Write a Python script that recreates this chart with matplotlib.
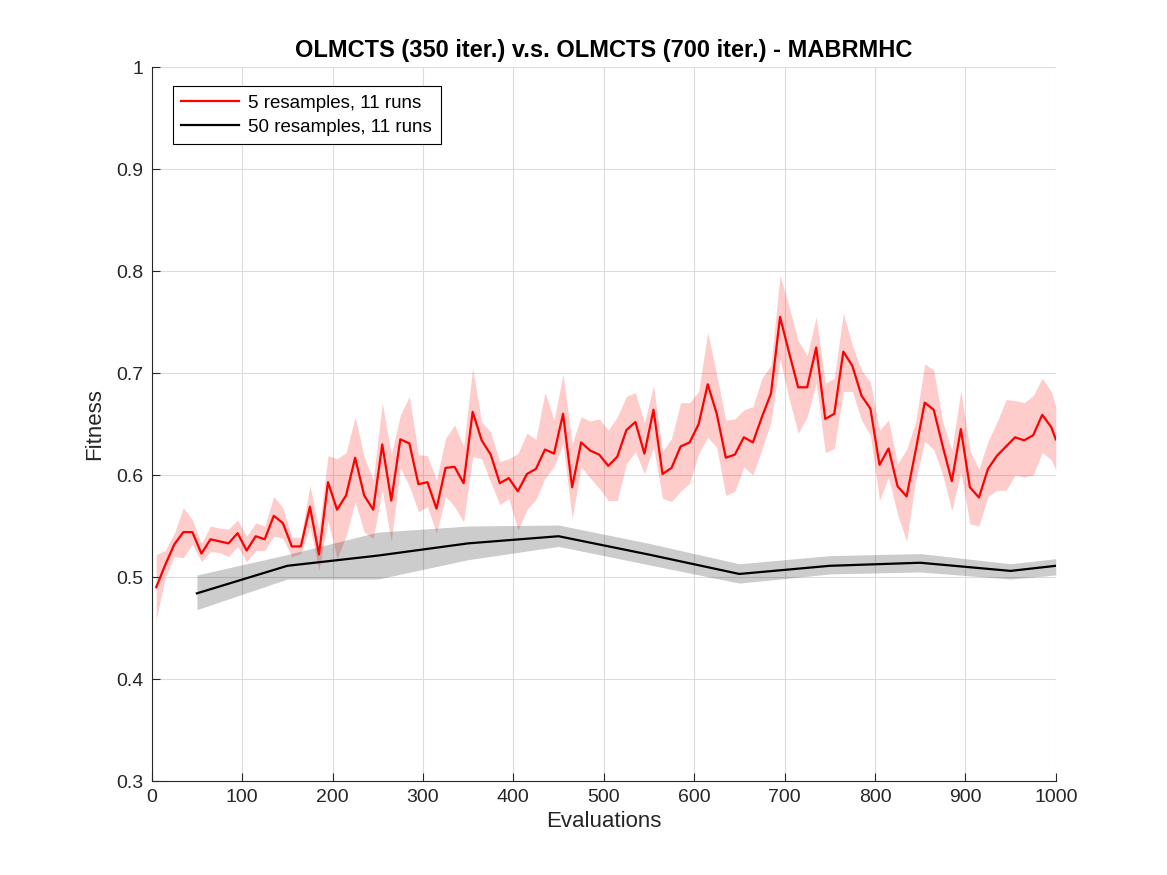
import numpy as np
import matplotlib
matplotlib.use('Agg')
import matplotlib.pyplot as plt

plt.rcParams['font.family'] = ['Liberation Sans', 'DejaVu Sans']

# 5 resamples, 11 runs (mean and shaded band)
red_x = list(range(5, 1000, 10)) + [1000]
red_mean = [
    0.490, 0.512, 0.532, 0.544, 0.544, 0.523, 0.537, 0.535, 0.533, 0.543,
    0.526, 0.540, 0.537, 0.560, 0.553, 0.530, 0.530, 0.569, 0.522, 0.593,
    0.566, 0.580, 0.617, 0.580, 0.566, 0.630, 0.575, 0.635, 0.631, 0.591,
    0.593, 0.567, 0.607, 0.608, 0.592, 0.662, 0.634, 0.620, 0.592, 0.597,
    0.584, 0.601, 0.606, 0.625, 0.621, 0.660, 0.588, 0.632, 0.624, 0.620,
    0.609, 0.618, 0.644, 0.652, 0.621, 0.664, 0.601, 0.607, 0.628, 0.632,
    0.650, 0.689, 0.660, 0.617, 0.620, 0.637, 0.632, 0.657, 0.680, 0.755,
    0.720, 0.686, 0.686, 0.725, 0.655, 0.660, 0.721, 0.707, 0.678, 0.665,
    0.610, 0.626, 0.589, 0.579, 0.624, 0.671, 0.664, 0.628, 0.594, 0.645,
    0.588, 0.578, 0.606, 0.619, 0.628, 0.637, 0.634, 0.639, 0.659, 0.647,
    0.635,
]
red_lo = [
    0.458, 0.500, 0.520, 0.519, 0.532, 0.515, 0.525, 0.524, 0.520, 0.530,
    0.515, 0.526, 0.526, 0.540, 0.538, 0.520, 0.523, 0.549, 0.507, 0.555,
    0.518, 0.540, 0.574, 0.544, 0.538, 0.585, 0.535, 0.607, 0.589, 0.564,
    0.569, 0.543, 0.579, 0.569, 0.554, 0.618, 0.616, 0.593, 0.571, 0.577,
    0.546, 0.566, 0.576, 0.597, 0.608, 0.631, 0.557, 0.608, 0.597, 0.587,
    0.575, 0.575, 0.611, 0.623, 0.601, 0.628, 0.577, 0.574, 0.584, 0.592,
    0.621, 0.637, 0.627, 0.580, 0.584, 0.608, 0.600, 0.625, 0.652, 0.713,
    0.675, 0.641, 0.657, 0.690, 0.622, 0.626, 0.682, 0.682, 0.654, 0.639,
    0.575, 0.598, 0.561, 0.535, 0.595, 0.633, 0.625, 0.600, 0.565, 0.603,
    0.552, 0.550, 0.579, 0.585, 0.585, 0.600, 0.598, 0.600, 0.622, 0.615,
    0.605,
]
red_hi = [
    0.522, 0.526, 0.543, 0.568, 0.556, 0.533, 0.550, 0.548, 0.547, 0.556,
    0.540, 0.553, 0.550, 0.579, 0.568, 0.539, 0.539, 0.590, 0.546, 0.619,
    0.616, 0.622, 0.657, 0.618, 0.595, 0.671, 0.620, 0.659, 0.677, 0.620,
    0.619, 0.595, 0.636, 0.649, 0.628, 0.705, 0.652, 0.642, 0.613, 0.616,
    0.621, 0.641, 0.635, 0.681, 0.654, 0.699, 0.631, 0.657, 0.653, 0.655,
    0.644, 0.657, 0.677, 0.681, 0.651, 0.688, 0.623, 0.636, 0.671, 0.671,
    0.682, 0.740, 0.698, 0.654, 0.655, 0.664, 0.667, 0.695, 0.708, 0.796,
    0.765, 0.732, 0.717, 0.755, 0.690, 0.695, 0.759, 0.727, 0.703, 0.691,
    0.644, 0.654, 0.611, 0.625, 0.652, 0.709, 0.703, 0.652, 0.624, 0.683,
    0.624, 0.606, 0.633, 0.652, 0.674, 0.673, 0.671, 0.678, 0.695, 0.682,
    0.667,
]

# 50 resamples, 11 runs
black_x = [50, 150, 250, 350, 450, 550, 650, 750, 850, 950, 1000]
black_mean = [0.484, 0.511, 0.521, 0.533, 0.540, 0.522, 0.503, 0.511, 0.514, 0.506, 0.511]
black_lo = [0.468, 0.498, 0.498, 0.517, 0.530, 0.512, 0.494, 0.503, 0.505, 0.498, 0.502]
black_hi = [0.502, 0.522, 0.544, 0.550, 0.551, 0.533, 0.513, 0.521, 0.523, 0.513, 0.518]

x_ticks = np.arange(0, 1001, 100)
y_ticks = [0.3, 0.4, 0.5, 0.6, 0.7, 0.8, 0.9, 1.0]
y_tick_labels = ['0.3', '0.4', '0.5', '0.6', '0.7', '0.8', '0.9', '1']

fig = plt.figure(figsize=(11.67, 8.75), dpi=100)
ax = fig.add_axes([0.130, 0.1074, 0.7747, 0.8160])

ax.fill_between(red_x, red_lo, red_hi, color='red', alpha=0.2, linewidth=0)
ax.fill_between(black_x, black_lo, black_hi, color='black', alpha=0.2, linewidth=0)
ax.plot(red_x, red_mean, color='red', linewidth=1.6, label='5 resamples, 11 runs')
ax.plot(black_x, black_mean, color='black', linewidth=1.6, label='50 resamples, 11 runs')

ax.set_xlim(0, 1000)
ax.set_ylim(0.3, 1.0)
ax.set_xticks(x_ticks)
ax.set_yticks(y_ticks)
ax.set_yticklabels(y_tick_labels)
ax.tick_params(direction='in', length=6, width=0.8, labelsize=14, pad=6,
               colors='#262626')
ax.grid(True, color='#dcdcdc', linewidth=0.8)
ax.set_axisbelow(True)
for side in ['top', 'right']:
    ax.spines[side].set_visible(False)
for side in ['left', 'bottom']:
    ax.spines[side].set_color('#262626')
    ax.spines[side].set_linewidth(0.8)

ax.set_xlabel('Evaluations', fontsize=16, color='#262626', labelpad=3)
ax.set_ylabel('Fitness', fontsize=16, color='#262626', labelpad=8)
ax.set_title('OLMCTS (350 iter.) v.s. OLMCTS (700 iter.) - MABRMHC',
             fontsize=17, fontweight='bold', pad=7)

leg = ax.legend(loc='upper left', bbox_to_anchor=(0.023, 0.973), fontsize=13.5,
                handlelength=3.1, handletextpad=0.5, fancybox=False, framealpha=1,
                edgecolor='black', borderpad=0.45, labelspacing=0.35,
                borderaxespad=0)
leg.get_frame().set_linewidth(0.8)

fig.savefig('out.png', dpi=100)
